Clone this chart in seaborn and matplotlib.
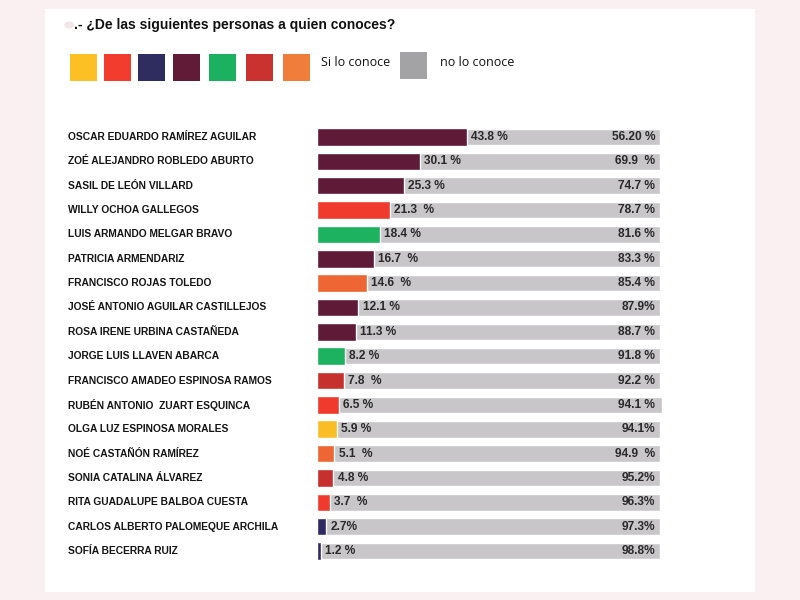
import matplotlib
matplotlib.use("Agg")
import matplotlib.pyplot as plt
import matplotlib.transforms as mtransforms
from matplotlib.patches import Rectangle, Circle
import seaborn as sns
import pandas as pd

# ---------------- data ----------------
names = [
    "OSCAR EDUARDO RAMÍREZ AGUILAR",
    "ZOÉ ALEJANDRO ROBLEDO ABURTO",
    "SASIL DE LEÓN VILLARD",
    "WILLY OCHOA GALLEGOS",
    "LUIS ARMANDO MELGAR BRAVO",
    "PATRICIA ARMENDARIZ",
    "FRANCISCO ROJAS TOLEDO",
    "JOSÉ ANTONIO AGUILAR CASTILLEJOS",
    "ROSA IRENE URBINA CASTAÑEDA",
    "JORGE LUIS LLAVEN ABARCA",
    "FRANCISCO AMADEO ESPINOSA RAMOS",
    "RUBÉN ANTONIO  ZUART ESQUINCA",
    "OLGA LUZ ESPINOSA MORALES",
    "NOÉ CASTAÑÓN RAMÍREZ",
    "SONIA CATALINA ÁLVAREZ",
    "RITA GUADALUPE BALBOA CUESTA",
    "CARLOS ALBERTO PALOMEQUE ARCHILA",
    "SOFÍA BECERRA RUIZ",
]
si_lo_conoce = [43.8, 30.1, 25.3, 21.3, 18.4, 16.7, 14.6, 12.1, 11.3,
                8.2, 7.8, 6.5, 5.9, 5.1, 4.8, 3.7, 2.7, 1.2]
no_lo_conoce = [56.2, 69.9, 74.7, 78.7, 81.6, 83.3, 85.4, 87.9, 88.7,
                91.8, 92.2, 94.1, 94.1, 94.9, 95.2, 96.3, 97.3, 98.8]
si_labels = ["43.8 %", "30.1 %", "25.3 %", "21.3  %", "18.4 %", "16.7  %",
             "14.6  %", "12.1 %", "11.3 %", "8.2 %", "7.8  %", "6.5 %",
             "5.9 %", "5.1  %", "4.8 %", "3.7  %", "2.7%", "1.2 %"]
no_labels = ["56.20 %", "69.9  %", "74.7 %", "78.7 %", "81.6 %", "83.3 %",
             "85.4 %", "87.9%", "88.7 %", "91.8 %", "92.2 %", "94.1 %",
             "94.1%", "94.9  %", "95.2%", "96.3%", "97.3%", "98.8%"]

MAROON, RED, GREEN, ORANGE = "#5e1a37", "#ef3a2d", "#1db25f", "#ee6633"
DARKRED, YELLOW, NAVY = "#c6312d", "#fbbd25", "#2e2b60"
bar_colors = [MAROON, MAROON, MAROON, RED, GREEN, MAROON, ORANGE, MAROON, MAROON,
              GREEN, DARKRED, RED, YELLOW, ORANGE, DARKRED, RED, NAVY, NAVY]
legend_colors = ["#fcbf24", "#f23c2e", "#2f2c5f", "#611b36", "#1cb160", "#c9322e", "#f07d3a"]
legend_si = "Si lo conoce"
legend_no = "no lo conoce"
GRAY = "#c8c6c9"
GRAY_LEGEND = "#a3a2a5"
title = ".- ¿De las siguientes personas a quien conoces?"

df = pd.DataFrame({"name": names, "si": si_lo_conoce, "no": no_lo_conoce})
df["total"] = df["si"] + df["no"]

# ---------------- figure ----------------
sns.set_theme(style="white")
plt.rcParams["font.family"] = ["Liberation Sans", "DejaVu Sans"]

W, H = 800, 600
fig = plt.figure(figsize=(8, 6), dpi=100, facecolor="#fbf0f1")

def fx(px):
    return px / W

def fy(py):
    return 1 - py / H

# white card (behind everything)
fig.patches.append(Rectangle((fx(45), fy(592)), fx(755) - fx(45), fy(9) - fy(592),
                             transform=fig.transFigure, facecolor="white",
                             edgecolor="none", zorder=-5))

# title
fig.patches.append(Circle((fx(69), fy(25)), 0.006, transform=fig.transFigure,
                          facecolor="#f3e6e8", edgecolor="none", zorder=-4))
fig.text(fx(74), fy(25), title, fontsize=10, fontweight="bold",
         color="#111111", va="center", ha="left")

# legend squares
sq_x = [70, 104, 138, 173, 209, 246, 283]
for x0, c in zip(sq_x, legend_colors):
    fig.patches.append(Rectangle((fx(x0), fy(81)), fx(27), fy(54) - fy(81),
                                 transform=fig.transFigure, facecolor=c,
                                 edgecolor="none", zorder=-4))
fig.text(fx(321), fy(62), legend_si, fontsize=9, color="#111111",
         va="center", ha="left", family=["Open Sans", "DejaVu Sans"])
fig.patches.append(Rectangle((fx(400), fy(79)), fx(27), fy(52) - fy(79),
                             transform=fig.transFigure, facecolor=GRAY_LEGEND,
                             edgecolor="none", zorder=-4))
fig.text(fx(440), fy(62), legend_no, fontsize=9, color="#111111",
         va="center", ha="left", family=["Open Sans", "DejaVu Sans"])

# axes for bars
row_top, row_bot = 137, 551
step = (row_bot - row_top) / (len(names) - 1)
ax_top = row_top - step / 2
ax_bot = row_bot + step / 2
ax = fig.add_axes([fx(317), fy(ax_bot), fx(662) - fx(317), (ax_bot - ax_top) / H])
ax.set_facecolor("none")
ax.set_zorder(2)

sns.barplot(data=df, x="total", y="name", color=GRAY, width=0.68,
            saturation=1, ax=ax, orient="h", zorder=1)
sns.barplot(data=df, x="si", y="name", hue="name", palette=bar_colors,
            width=0.72, saturation=1, legend=False, ax=ax, orient="h", zorder=2)

ax.set_xlim(0, 100.6)
ax.set_ylim(len(names) - 0.5, -0.5)
ax.set_xlabel("")
ax.set_ylabel("")
ax.set_xticks([])
ax.set_yticks([])
for s in ax.spines.values():
    s.set_visible(False)

trans = mtransforms.blended_transform_factory(fig.transFigure, ax.transData)
for i, (nm, v, sl, nl) in enumerate(zip(names, si_lo_conoce, si_labels, no_labels)):
    fig.text(fx(68), i, nm, transform=trans, fontsize=7.4, fontweight="bold",
             color="#151515", va="center", ha="left")
    ax.text(v + 1.2, i, sl, fontsize=8.6, fontweight="bold", color="#2a2a2a",
            va="center", ha="left", zorder=3)
    ax.text(98.6, i, nl, fontsize=8.6, fontweight="bold", color="#2a2a2a",
            va="center", ha="right", zorder=3)

fig.savefig("out.png", dpi=100, facecolor=fig.get_facecolor())
